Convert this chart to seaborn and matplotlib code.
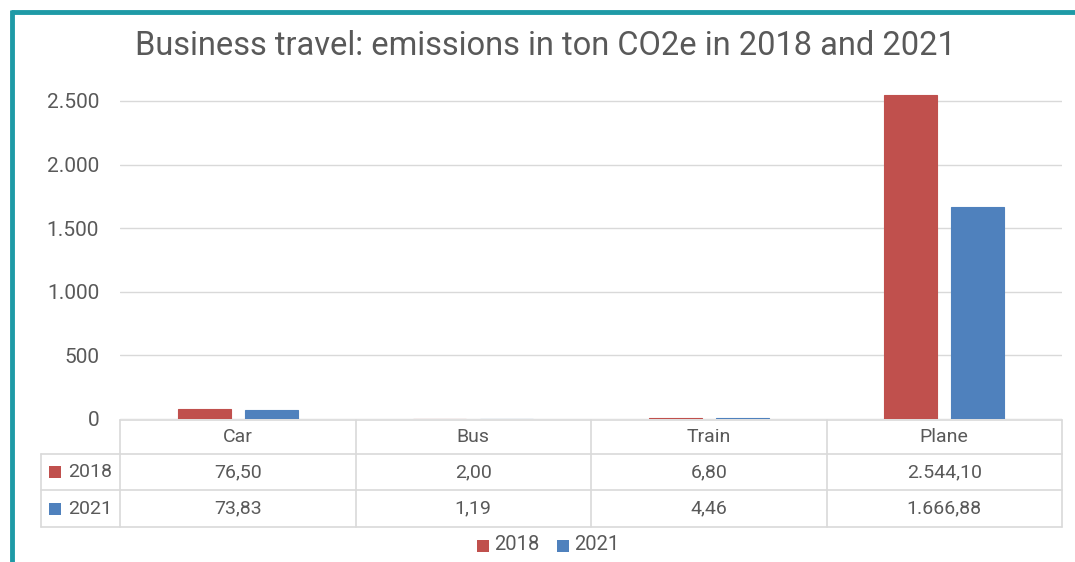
import matplotlib
matplotlib.use("Agg")
import matplotlib.pyplot as plt
import matplotlib.transforms as mtransforms
from matplotlib.lines import Line2D
from matplotlib.patches import Rectangle
import seaborn as sns
import pandas as pd

categories = ["Car", "Bus", "Train", "Plane"]
years = ["2018", "2021"]
values_2018 = [76.50, 2.00, 6.80, 2544.10]
values_2021 = [73.83, 1.19, 4.46, 1666.88]
yticks = [0, 500, 1000, 1500, 2000, 2500]
title = "Business travel: emissions in ton CO2e in 2018 and 2021"

colors = {"2018": "#C0504D", "2021": "#4F81BD"}
text_color = "#595959"
grid_color = "#D9D9D9"

def fmt_num(v, dec=2):
    s = f"{v:,.{dec}f}"
    return s.replace(",", "X").replace(".", ",").replace("X", ".")

df = pd.DataFrame({
    "category": categories * 2,
    "year": [years[0]] * 4 + [years[1]] * 4,
    "value": values_2018 + values_2021,
})

sns.set_theme(style="white")
plt.rcParams["font.family"] = ["Roboto", "DejaVu Sans"]

W, H = 1075, 562
fig = plt.figure(figsize=(W / 100, H / 100), dpi=100)

# overlay axes in pixel coordinates
over = fig.add_axes([0, 0, 1, 1], zorder=0)
over.set_xlim(0, W)
over.set_ylim(H, 0)
over.axis("off")

# teal frame
over.add_line(Line2D([11, W], [11.5, 11.5], color="#1E9AA6", lw=3.5, solid_capstyle="butt"))
over.add_line(Line2D([11.5, 11.5], [10, H], color="#1E9AA6", lw=3.5, solid_capstyle="butt"))

# main bar axes
y0_px, unit = 419, 63.6 / 500
ymax = 2600
top_px = y0_px - ymax * unit
ax = fig.add_axes([120 / W, 1 - y0_px / H, (1062 - 120) / W, (y0_px - top_px) / H], zorder=1)
ax.patch.set_alpha(0)

sns.barplot(data=df, x="category", y="value", hue="year", order=categories,
            hue_order=years, palette=colors, width=0.569, gap=0.21,
            ax=ax, legend=False, saturation=1)
for p in ax.patches:
    p.set_edgecolor(p.get_facecolor())
    p.set_linewidth(0.8)
ax.set_xlim(-0.5, len(categories) - 0.5)
ax.set_ylim(0, ymax)
ax.set_yticks(yticks)
ax.set_yticklabels([fmt_num(t, 0) for t in yticks], color=text_color, fontsize=15)
ax.tick_params(axis="y", length=0, pad=15)
ax.set_xticks([])
ax.set_xlabel("")
ax.set_ylabel("")
for s in ax.spines.values():
    s.set_visible(False)
ax.yaxis.grid(True, color=grid_color, lw=1)
ax.set_axisbelow(True)

over.text(545, 55, title, ha="center", va="baseline",
          fontsize=23.5, color=text_color)

# data table
tr = mtransforms.blended_transform_factory(ax.transData, over.transData)
line_kw = dict(color="#D9D9D9", lw=1.2)
rows_y = [420, 454, 490, 527]
left_x = 41
ncat = len(categories)
over.add_line(Line2D([-0.5, ncat - 0.5], [rows_y[0]] * 2, transform=tr, **line_kw))
for yy in rows_y[1:]:
    over.add_line(Line2D([left_x, 1062], [yy, yy], **line_kw))
for i in range(ncat + 1):
    over.add_line(Line2D([i - 0.5, i - 0.5], [rows_y[0], rows_y[-1]], transform=tr, **line_kw))
over.add_line(Line2D([left_x, left_x], [rows_y[1], rows_y[-1]], **line_kw))

fs = 14
for i, c in enumerate(categories):
    over.text(i, (rows_y[0] + rows_y[1]) / 2, c, transform=tr, ha="center",
              va="center", fontsize=fs, color=text_color)
for r, (yr, vals) in enumerate(zip(years, [values_2018, values_2021])):
    yc = (rows_y[r + 1] + rows_y[r + 2]) / 2
    for i, v in enumerate(vals):
        over.text(i, yc, fmt_num(v), transform=tr, ha="center", va="center",
                  fontsize=fs, color=text_color)
    over.add_patch(Rectangle((49, yc - 6), 12, 12, color=colors[yr], lw=0))
    over.text(68, yc, yr, ha="left", va="center", fontsize=fs, color=text_color)

# legend
leg_x = [477, 557]
for x, yr in zip(leg_x, years):
    over.add_patch(Rectangle((x, 540), 12, 12, color=colors[yr], lw=0))
    over.text(x + 17, 545, yr, ha="left", va="center", fontsize=14.5, color=text_color)

fig.savefig("out.png", dpi=100)
